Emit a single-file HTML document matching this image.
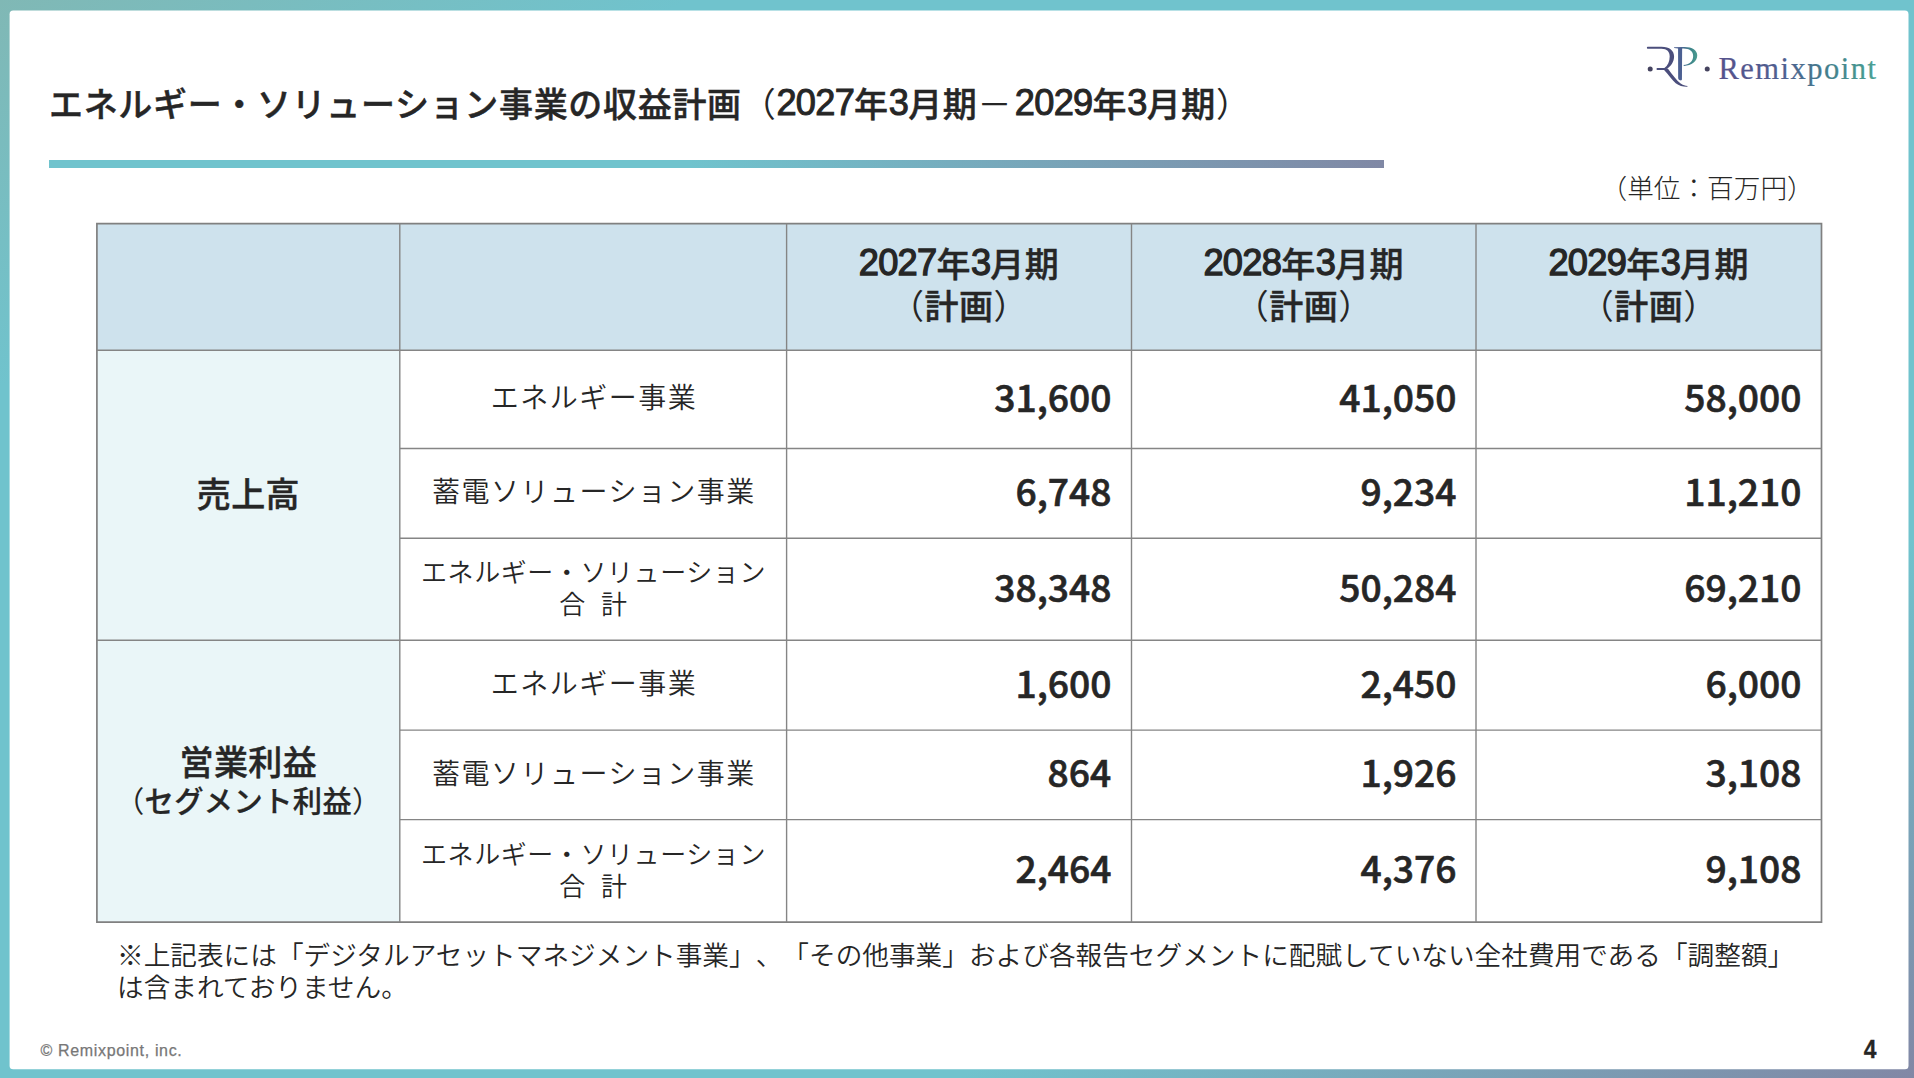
<!DOCTYPE html>
<html lang="ja">
<head>
<meta charset="utf-8">
<title>エネルギー・ソリューション事業の収益計画</title>
<style>
html,body{margin:0;padding:0;}
body{width:1914px;height:1078px;overflow:hidden;position:relative;
  background:linear-gradient(to bottom right,#80b8b5 0%,#70c3cd 18%,#70c3cd 75%,#8187a5 100%);
  font-family:"Liberation Sans","Noto Sans CJK JP",sans-serif;color:#262626;}
.abs{position:absolute;white-space:nowrap;}
#title{left:49px;top:79.7px;font-size:34px;letter-spacing:0.67px;line-height:50px;}
.b{font-weight:500;-webkit-text-stroke:0.45px #262626;}
.d{font-family:"Liberation Sans",sans-serif;font-weight:400;font-size:36.2px;letter-spacing:-0.7px;-webkit-text-stroke:1.3px #262626;line-height:0;position:relative;top:-1.6px;}
.p{font-weight:400;-webkit-text-stroke:0;}
#title .d{-webkit-text-stroke:1px #262626;}
#rule{left:49px;top:160px;width:1335px;height:7.6px;
  background:linear-gradient(to right,#70c3cd 0%,#70c3cd 48%,#8088a5 100%);}
#unit{left:1600.5px;top:168.5px;font-size:26.67px;line-height:40px;font-weight:300;}
#note{text-spacing-trim:space-all;left:117px;top:940px;font-size:26.67px;line-height:32px;font-weight:350;white-space:normal;width:1720px;}
#copy{left:40.5px;top:1040.8px;font-size:16px;line-height:20px;color:#777;letter-spacing:0.66px;-webkit-text-stroke:0.25px #777;}
#pageno{left:1860.3px;top:1034px;width:20px;text-align:center;font-size:26px;line-height:30px;font-weight:700;-webkit-text-stroke:0.3px #262626;transform:scaleX(.88);}
/* table */
.cell{position:absolute;box-sizing:border-box;}
.hd{background:#cee2ed;}
.lb{background:#eaf6f8;}
.ctr{display:flex;align-items:center;justify-content:center;text-align:center;}
.num{display:flex;align-items:center;justify-content:flex-end;font-weight:500;-webkit-text-stroke:0.6px #262626;font-size:37px;
  font-family:"Noto Sans CJK JP","Liberation Sans",sans-serif;padding-right:20px;padding-bottom:7px;}
.num>div{transform:scaleX(1.006);transform-origin:right center;}
.h{font-size:34px;letter-spacing:0.5px;line-height:42px;padding-bottom:2px;font-weight:500;-webkit-text-stroke:0.45px #262626;}
.l1{font-size:34px;letter-spacing:0.4px;line-height:36.8px;font-weight:500;-webkit-text-stroke:0.45px #262626;}
.sub{font-size:29.3px;letter-spacing:0.35px;-webkit-text-stroke:0.25px #262626;}
.sp4{font-size:28px;letter-spacing:1.5px;padding-left:1.5px;}
.sp3{font-size:28px;letter-spacing:1.48px;padding-left:1.48px;}
.sp0{letter-spacing:0.58px;padding-left:0.58px;}
.gk{word-spacing:8.5px;}
.l2{font-size:26px;font-weight:350;line-height:32px;}
</style>
</head>
<body>
<svg class="abs" style="left:0;top:0" width="1914" height="1078" viewBox="0 0 1914 1078"><rect x="9.6" y="10.6" width="1898.9" height="1058.7" rx="3.6" fill="#fff"/></svg>

<div id="title" class="abs b">エネルギー・ソリューション事業の収益計画<span class="p">（</span><span class="d">2027</span>年<span class="d">3</span>月期<span class="p" style="margin-right:2.6px">－</span><span class="d">2029</span>年<span class="d">3</span>月期<span class="p">）</span></div>
<div id="rule" class="abs"></div>
<div id="unit" class="abs">（単位：百万円）</div>

<svg id="mono" class="abs" style="left:1640px;top:40px" width="90" height="55" viewBox="0 0 1764 1078">
<defs>
<linearGradient id="pg" x1="745" y1="0" x2="1120" y2="0" gradientUnits="userSpaceOnUse"><stop offset="0" stop-color="#4c6092"/><stop offset="0.35" stop-color="#46708f"/><stop offset="0.75" stop-color="#3f8a8a"/><stop offset="1" stop-color="#4c9c90"/></linearGradient>
</defs>
<circle cx="200" cy="566" r="49" fill="#45435f"/>
<circle cx="1318" cy="566" r="49" fill="#45435f"/>
<g fill="#4b4e7c">
<path d="M150 133 L420 133 C585 133 668 215 668 322 C668 435 600 520 522 566 L478 548 C545 500 582 420 582 322 C582 232 530 172 420 172 L150 172 C130 172 130 133 150 133Z"/>
<path d="M340 548 L520 548 L530 586 L340 586 C318 586 318 548 340 548Z"/>
<path d="M468 582 L545 558 C640 690 720 790 790 848 C840 884 890 898 932 903 L928 916 C850 918 765 902 700 850 C630 782 560 682 468 582Z"/>
</g>
<path fill="#4c6092" d="M668 140 L830 136 L830 160 L748 166 L668 156Z"/>
<path fill="#4c6092" d="M746 155 L826 150 L822 770 C822 792 800 796 785 790 C765 782 748 770 748 740Z"/>
<path fill="url(#pg)" d="M822 138 C1000 120 1122 190 1122 300 C1122 420 1010 502 862 508 L852 490 C960 480 1042 420 1042 312 C1042 212 960 158 822 166Z"/>
</svg>
<svg id="brand" class="abs" style="left:1700px;top:40px" width="200" height="60" viewBox="0 0 200 60">
<defs><linearGradient id="bg" x1="18" y1="0" x2="178" y2="0" gradientUnits="userSpaceOnUse"><stop offset="0" stop-color="#56528c"/><stop offset="0.4" stop-color="#4f5f90"/><stop offset="0.7" stop-color="#43808c"/><stop offset="1" stop-color="#4aa394"/></linearGradient></defs>
<text x="18.4" y="39" font-family="'Liberation Serif',serif" font-size="30.5" letter-spacing="1.5" fill="url(#bg)" stroke="url(#bg)" stroke-width="0.22">Remixpoint</text>
</svg>
<div id="tbl">
<div class="cell hd" style="left:96.9px;top:223.6px;width:302.9px;height:126.6px"></div>
<div class="cell hd" style="left:399.8px;top:223.6px;width:386.8px;height:126.6px"></div>
<div class="cell hd ctr h" style="left:786.6px;top:223.6px;width:344.9px;height:126.6px"><div><span class="d">2027</span>年<span class="d">3</span>月期<br><span class="p">（</span>計画<span class="p">）</span></div></div>
<div class="cell hd ctr h" style="left:1131.5px;top:223.6px;width:344.5px;height:126.6px"><div><span class="d">2028</span>年<span class="d">3</span>月期<br><span class="p">（</span>計画<span class="p">）</span></div></div>
<div class="cell hd ctr h" style="left:1476.0px;top:223.6px;width:345.5px;height:126.6px"><div><span class="d">2029</span>年<span class="d">3</span>月期<br><span class="p">（</span>計画<span class="p">）</span></div></div>
<div class="cell lb ctr l1" style="left:96.9px;top:350.2px;width:302.9px;height:290.1px"><div>売上高</div></div>
<div class="cell lb ctr l1" style="left:96.9px;top:640.3px;width:302.9px;height:281.8px"><div style="padding-top:4px">営業利益<br><span class="sub"><span class="p">（</span>セグメント利益<span class="p">）</span></span></div></div>
<div class="cell ctr l2" style="left:399.8px;top:350.2px;width:386.8px;height:98.3px"><div><span class="sp4">エネルギー事業</span></div></div>
<div class="cell num" style="left:786.6px;top:350.2px;width:344.9px;height:98.3px"><div>31,600</div></div>
<div class="cell num" style="left:1131.5px;top:350.2px;width:344.5px;height:98.3px"><div>41,050</div></div>
<div class="cell num" style="left:1476.0px;top:350.2px;width:345.5px;height:98.3px"><div>58,000</div></div>
<div class="cell ctr l2" style="left:399.8px;top:448.5px;width:386.8px;height:89.8px"><div><span class="sp3">蓄電ソリューション事業</span></div></div>
<div class="cell num" style="left:786.6px;top:448.5px;width:344.9px;height:89.8px"><div>6,748</div></div>
<div class="cell num" style="left:1131.5px;top:448.5px;width:344.5px;height:89.8px"><div>9,234</div></div>
<div class="cell num" style="left:1476.0px;top:448.5px;width:345.5px;height:89.8px"><div>11,210</div></div>
<div class="cell ctr l2" style="left:399.8px;top:538.3px;width:386.8px;height:102.0px"><div><span class="sp0">エネルギー・ソリューション</span><br><span class="gk">合 計</span></div></div>
<div class="cell num" style="left:786.6px;top:538.3px;width:344.9px;height:102.0px"><div>38,348</div></div>
<div class="cell num" style="left:1131.5px;top:538.3px;width:344.5px;height:102.0px"><div>50,284</div></div>
<div class="cell num" style="left:1476.0px;top:538.3px;width:345.5px;height:102.0px"><div>69,210</div></div>
<div class="cell ctr l2" style="left:399.8px;top:640.3px;width:386.8px;height:89.8px"><div><span class="sp4">エネルギー事業</span></div></div>
<div class="cell num" style="left:786.6px;top:640.3px;width:344.9px;height:89.8px"><div>1,600</div></div>
<div class="cell num" style="left:1131.5px;top:640.3px;width:344.5px;height:89.8px"><div>2,450</div></div>
<div class="cell num" style="left:1476.0px;top:640.3px;width:345.5px;height:89.8px"><div>6,000</div></div>
<div class="cell ctr l2" style="left:399.8px;top:730.1px;width:386.8px;height:89.5px"><div><span class="sp3">蓄電ソリューション事業</span></div></div>
<div class="cell num" style="left:786.6px;top:730.1px;width:344.9px;height:89.5px"><div>864</div></div>
<div class="cell num" style="left:1131.5px;top:730.1px;width:344.5px;height:89.5px"><div>1,926</div></div>
<div class="cell num" style="left:1476.0px;top:730.1px;width:345.5px;height:89.5px"><div>3,108</div></div>
<div class="cell ctr l2" style="left:399.8px;top:819.6px;width:386.8px;height:102.5px"><div><span class="sp0">エネルギー・ソリューション</span><br><span class="gk">合 計</span></div></div>
<div class="cell num" style="left:786.6px;top:819.6px;width:344.9px;height:102.5px"><div>2,464</div></div>
<div class="cell num" style="left:1131.5px;top:819.6px;width:344.5px;height:102.5px"><div>4,376</div></div>
<div class="cell num" style="left:1476.0px;top:819.6px;width:345.5px;height:102.5px"><div>9,108</div></div>
<svg class="abs" style="left:0;top:0" width="1914" height="1078" viewBox="0 0 1914 1078" fill="none" stroke="#858585" stroke-width="1.4"><path d="M96.9 223.7H1821.5V922.1H96.9Z" stroke="#808080" stroke-width="1.7"/><path d="M399.8 223.6V922.1M786.6 223.6V922.1M1131.5 223.6V922.1M1476.0 223.6V922.1M96.9 350.2H1821.5M96.9 640.3H1821.5M399.8 448.5H1821.5M399.8 538.3H1821.5M399.8 730.1H1821.5M399.8 819.6H1821.5"/></svg>
</div>

<div id="note" class="abs">※上記表には「デジタルアセットマネジメント事業」、「その他事業」および各報告セグメントに配賦していない全社費用である「調整額」<br>は含まれておりません。</div>
<div id="copy" class="abs">© Remixpoint, inc.</div>
<div id="pageno" class="abs">4</div>
</body>
</html>
